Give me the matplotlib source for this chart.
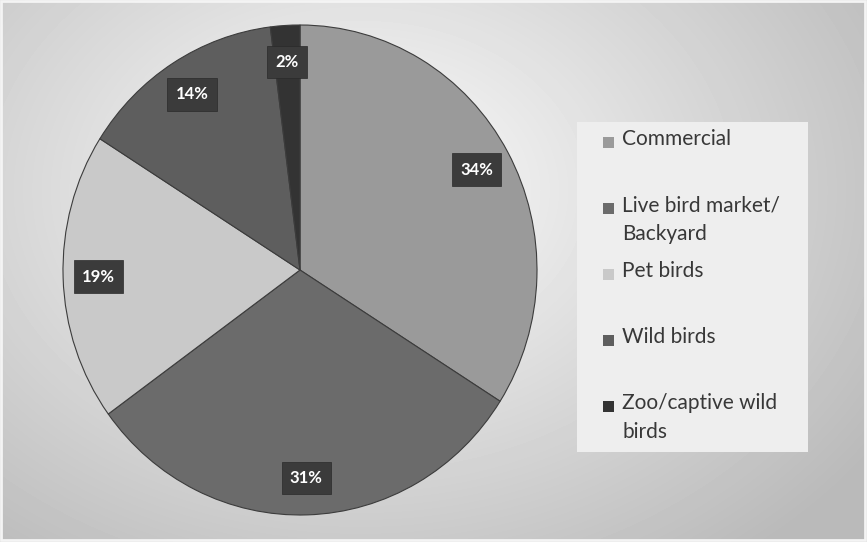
import numpy as np
import matplotlib.pyplot as plt
from matplotlib.patches import Rectangle

labels = ['Commercial', 'Live bird market/\nBackyard', 'Pet birds', 'Wild birds', 'Zoo/captive wild\nbirds']
shares = [34, 31, 19, 14, 2]
colors = ['#9a9a9a', '#6b6b6b', '#c9c9c9', '#5e5e5e', '#333333']

W, H = 867, 542
fig = plt.figure(figsize=(W / 100, H / 100), dpi=100)

# radial grey background
bg = fig.add_axes([0, 0, 1, 1])
yy, xx = np.mgrid[0:H, 0:W]
d = np.sqrt(((xx - 360) / 640.0) ** 2 + ((yy - 190) / 480.0) ** 2)
shade = np.clip(0.99 - 0.27 * d, 0.73, 1.0)
bg.imshow(shade, cmap='gray', vmin=0, vmax=1, extent=[0, W, H, 0], aspect='auto')
bg.add_patch(Rectangle((1, 1), W - 3, H - 3, fill=False, ec='#f4f4f4', lw=2))
bg.set_xlim(0, W)
bg.set_ylim(H, 0)
bg.axis('off')

# pie
ax = fig.add_axes([63 / W, (H - 515) / H, 474 / W, 490 / H])
wedges, texts = ax.pie(shares, colors=colors, startangle=90, counterclock=False,
                       labels=[f'{v}%' for v in shares], labeldistance=0.85,
                       wedgeprops=dict(edgecolor='#3c3c3c', linewidth=0.8))
for t in texts:
    t.set_ha('center')
    t.set_va('center')
    t.set_color('white')
    t.set_fontweight('bold')
    t.set_fontsize(12)
    t.set_fontfamily('Lato')
    t.set_bbox(dict(boxstyle='square,pad=0.5', fc='#3b3b3b', ec='#2a2a2a', lw=0.5))
ax.set_xlim(-1.0, 1.0)
ax.set_ylim(-1.0, 1.0)
ax.set_aspect('auto')
ax.axis('off')

# legend box
bg.add_patch(Rectangle((577, 122), 231, 330, fc='#eeeeee', ec='none', zorder=2))
for i, (lab, c) in enumerate(zip(labels, colors)):
    y = 142 + 66 * i
    bg.add_patch(Rectangle((603, y - 5.5), 11, 11, fc=c, ec='none', zorder=3))
    bg.text(622, y - 13, lab, fontsize=15, family='Lato', color='#383838',
            va='top', ha='left', linespacing=1.55, zorder=4)

fig.savefig('out.png', dpi=100)
